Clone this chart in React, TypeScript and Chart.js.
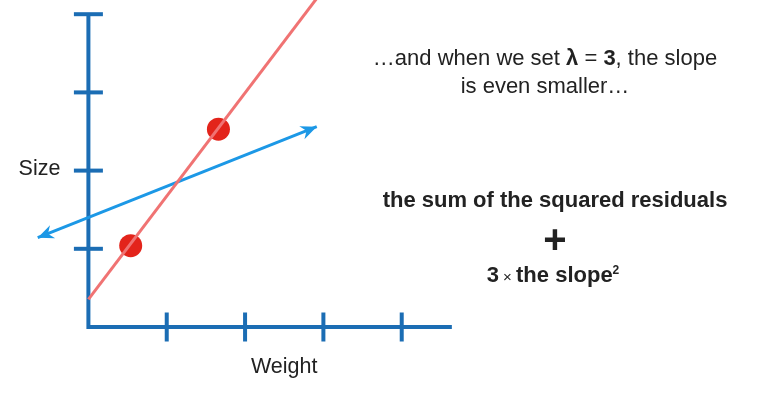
import React, { useEffect, useRef } from "react";
import { Chart, registerables } from "chart.js";

Chart.register(...registerables);

// ---- data (in axis units: one tick = 1) ----
const pointsX = [0.54, 1.66];
const pointsY = [1.04, 2.53];
const fitLineX = [0, 3.0];
const fitLineY = [0.354, 4.314];
const ridgeLineX = [-0.647, 2.915];
const ridgeLineY = [1.142, 2.561];
const xTicks = [1, 2, 3, 4];
const yTicks = [1, 2, 3, 4];
const xAxisEnd = 4.64;
const yAxisEnd = 4;
const xLabel = "Weight";
const yLabel = "Size";

const AXIS_COLOR = "#1b6db4";
const RIDGE_COLOR = "#1c98e6";
const FIT_COLOR = "#f07373";
const POINT_COLOR = "#e3241b";
const TEXT_COLOR = "#222222";
const FONT = "'Liberation Sans', Arial, Helvetica, sans-serif";

type Run = { text: string; font: string; dy?: number };

function drawRuns(ctx: CanvasRenderingContext2D, runs: Run[], cx: number, baseline: number) {
  let total = 0;
  for (const r of runs) {
    ctx.font = r.font;
    total += ctx.measureText(r.text).width;
  }
  let x = cx - total / 2;
  ctx.textAlign = "left";
  ctx.textBaseline = "alphabetic";
  for (const r of runs) {
    ctx.font = r.font;
    ctx.fillText(r.text, x, baseline + (r.dy || 0));
    x += ctx.measureText(r.text).width;
  }
}

function arrowHead(ctx: CanvasRenderingContext2D, tipX: number, tipY: number, fromX: number, fromY: number) {
  const ang = Math.atan2(tipY - fromY, tipX - fromX);
  const len = 16;
  const half = 7;
  const notch = 11;
  ctx.save();
  ctx.translate(tipX, tipY);
  ctx.rotate(ang);
  ctx.beginPath();
  ctx.moveTo(0, 0);
  ctx.lineTo(-len, -half);
  ctx.lineTo(-notch, 0);
  ctx.lineTo(-len, half);
  ctx.closePath();
  ctx.fillStyle = RIDGE_COLOR;
  ctx.fill();
  ctx.restore();
}

const decorPlugin = {
  id: "decor",
  beforeDatasetsDraw(chart: any) {
    const ctx: CanvasRenderingContext2D = chart.ctx;
    const xs = chart.scales.x;
    const ys = chart.scales.y;
    const x0 = xs.getPixelForValue(0);
    const y0 = ys.getPixelForValue(0);
    ctx.save();
    ctx.strokeStyle = AXIS_COLOR;
    ctx.lineWidth = 4;
    ctx.lineJoin = "miter";
    ctx.lineCap = "butt";
    ctx.beginPath();
    ctx.moveTo(x0, ys.getPixelForValue(yAxisEnd));
    ctx.lineTo(x0, y0);
    ctx.lineTo(xs.getPixelForValue(xAxisEnd), y0);
    ctx.stroke();
    const tl = 14.5;
    for (const t of yTicks) {
      const py = ys.getPixelForValue(t);
      ctx.beginPath();
      ctx.moveTo(x0 - tl, py);
      ctx.lineTo(x0 + tl, py);
      ctx.stroke();
    }
    for (const t of xTicks) {
      const px = xs.getPixelForValue(t);
      ctx.beginPath();
      ctx.moveTo(px, y0 - tl);
      ctx.lineTo(px, y0 + tl);
      ctx.stroke();
    }
    ctx.restore();
  },
  afterDatasetsDraw(chart: any) {
    const ctx: CanvasRenderingContext2D = chart.ctx;
    const xs = chart.scales.x;
    const ys = chart.scales.y;
    // arrowheads on ridge line
    const ax = xs.getPixelForValue(ridgeLineX[0]);
    const ay = ys.getPixelForValue(ridgeLineY[0]);
    const bx = xs.getPixelForValue(ridgeLineX[1]);
    const by = ys.getPixelForValue(ridgeLineY[1]);
    arrowHead(ctx, ax, ay, bx, by);
    arrowHead(ctx, bx, by, ax, ay);

    ctx.save();
    ctx.fillStyle = TEXT_COLOR;
    const x0 = xs.getPixelForValue(0);
    const y0 = ys.getPixelForValue(0);
    // axis labels
    ctx.font = `21.5px ${FONT}`;
    ctx.textAlign = "right";
    ctx.textBaseline = "alphabetic";
    ctx.fillText(yLabel, x0 - 28, ys.getPixelForValue(2) + 4);
    ctx.textAlign = "center";
    ctx.fillText(xLabel, xs.getPixelForValue(2.5), y0 + 46);

    const reg = `22px ${FONT}`;
    const bold = `bold 22px ${FONT}`;
    drawRuns(ctx, [
      { text: "\u2026and when we set ", font: reg },
      { text: "\u03bb", font: bold },
      { text: " = ", font: reg },
      { text: "3", font: bold },
      { text: ", the slope", font: reg },
    ], 545, 65);
    drawRuns(ctx, [{ text: "is even smaller\u2026", font: reg }], 545, 93);

    drawRuns(ctx, [{ text: "the sum of the squared residuals", font: bold }], 555, 207);
    drawRuns(ctx, [{ text: "+", font: `bold 40px ${FONT}` }], 555, 253);
    drawRuns(ctx, [
      { text: "3", font: bold },
      { text: " \u00d7 ", font: `15px ${FONT}` },
      { text: "the slope", font: bold },
      { text: "2", font: `bold 12px ${FONT}`, dy: -8 },
    ], 553, 282);
    ctx.restore();
  },
};

export default function App() {
  const ref = useRef<HTMLCanvasElement | null>(null);
  useEffect(() => {
    document.body.style.margin = "0";
    const canvas = ref.current!;
    const chart = new Chart(canvas, {
      type: "line",
      data: {
        datasets: [
          {
            type: "line",
            data: fitLineX.map((x, i) => ({ x, y: fitLineY[i] })),
            borderColor: FIT_COLOR,
            borderWidth: 3,
            pointRadius: 0,
            order: 0,
          },
          {
            type: "line",
            data: ridgeLineX.map((x, i) => ({ x, y: ridgeLineY[i] })),
            borderColor: RIDGE_COLOR,
            borderWidth: 3,
            pointRadius: 0,
            order: 2,
          },
          {
            type: "scatter",
            data: pointsX.map((x, i) => ({ x, y: pointsY[i] })),
            backgroundColor: POINT_COLOR,
            borderWidth: 0,
            pointRadius: 11.5,
            order: 1,
          } as any,
        ],
      },
      options: {
        responsive: false,
        devicePixelRatio: 1,
        animation: false,
        layout: { padding: 0, autoPadding: false },
        plugins: { legend: { display: false }, tooltip: { enabled: false }, title: { display: false } },
        events: [],
        scales: {
          x: { type: "linear", min: -1.1286, max: 8.5867, display: false },
          y: { type: "linear", min: -0.9335, max: 4.1816, display: false },
        },
      },
      plugins: [decorPlugin],
    } as any);
    return () => chart.destroy();
  }, []);
  return (
    <div style={{ width: 761, height: 400, background: "#fff" }}>
      <canvas ref={ref} width={761} height={400} style={{ display: "block" }} />
    </div>
  );
}
